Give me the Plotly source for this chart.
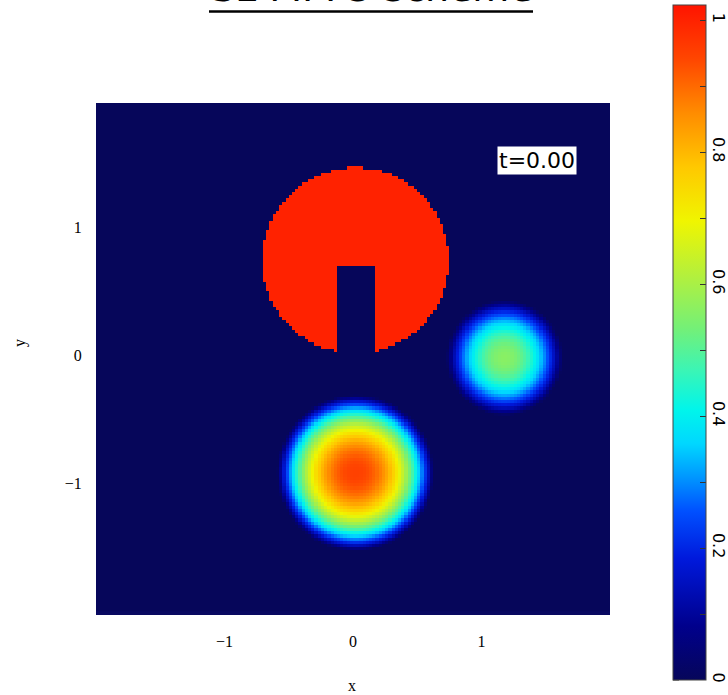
import numpy as np
import plotly.graph_objects as go

# Initial field of the solid-body-rotation test: a slotted disk and two smooth humps
shape_names = ["slotted disk", "large hump", "small hump"]
center_x = [0.02, 0.02, 1.18]
center_y = [0.74, -0.92, -0.02]
radius = [0.725, 0.61, 0.45]
peak = [1.00, 0.95, 0.56]
flatness = [0, 2.2, 2.0]
slot_half_width = 0.156
slot_top = 0.70

n_cells = 160
domain = [-2.0, 2.0]

x_ticks = [-1, 0, 1]
y_ticks = [-1, 0, 1]
cbar_tickvals = [0.0, 0.1, 0.2, 0.3, 0.4, 0.5, 0.6, 0.7, 0.8, 0.9, 1.0]
cbar_ticktext = ["0", "", "0.2", "", "0.4", "", "0.6", "", "0.8", "", "1"]
time_label = "t=0.00"
title_text = "SL-MPP5 scheme"

# cell-centred grid
dx = (domain[1] - domain[0]) / n_cells
xc = domain[0] + dx * (np.arange(n_cells) + 0.5)
yc = domain[0] + dx * (np.arange(n_cells) + 0.5)
X, Y = np.meshgrid(xc, yc)

field = np.zeros_like(X)
# slotted disk
r0 = np.hypot(X - center_x[0], Y - center_y[0])
disk = r0 <= radius[0]
slot = (np.abs(X - center_x[0]) < slot_half_width) & (Y < slot_top)
field[disk & ~slot] = peak[0]
# smooth humps
for k in (1, 2):
    r = np.hypot(X - center_x[k], Y - center_y[k])
    hump = peak[k] * np.clip(1.0 - (r / radius[k]) ** flatness[k], 0.0, None)
    field = np.maximum(field, hump)

colorscale = [
    [0.00, "rgb(6,6,90)"],
    [0.08, "rgb(0,0,140)"],
    [0.18, "rgb(0,25,220)"],
    [0.25, "rgb(0,80,255)"],
    [0.30, "rgb(0,150,255)"],
    [0.35, "rgb(0,215,255)"],
    [0.40, "rgb(0,245,235)"],
    [0.46, "rgb(60,245,180)"],
    [0.52, "rgb(115,240,120)"],
    [0.60, "rgb(180,240,60)"],
    [0.68, "rgb(240,245,0)"],
    [0.76, "rgb(255,200,0)"],
    [0.84, "rgb(255,140,0)"],
    [0.92, "rgb(255,70,0)"],
    [1.00, "rgb(255,20,0)"],
]

W, H = 728, 695
ml, mr, mt, mb = 96, 118, 103, 80
pw, ph = W - ml - mr, H - mt - mb

z_min, z_max = 0.0, 1.023
cbar_left, cbar_thick = 673, 33
cbar_top, cbar_len = 5, 675


def px_x(p):
    return (p - ml) / pw


def px_y(p):
    return (H - mb - p) / ph


fig = go.Figure(
    go.Heatmap(
        x=xc,
        y=yc,
        z=field,
        zmin=z_min,
        zmax=z_max,
        zsmooth=False,
        colorscale=colorscale,
        colorbar=dict(
            x=px_x(cbar_left),
            xanchor="left",
            xpad=0,
            y=px_y(cbar_top + cbar_len / 2),
            yanchor="middle",
            ypad=0,
            len=cbar_len,
            lenmode="pixels",
            thickness=cbar_thick,
            outlinewidth=1,
            outlinecolor="#444",
            tickmode="array",
            tickvals=cbar_tickvals,
            ticktext=cbar_ticktext,
            ticks="inside",
            ticklen=6,
            tickcolor="#333",
            tickangle=90,
            tickfont=dict(family="DejaVu Sans", size=16, color="black"),
        ),
        hoverinfo="skip",
    )
)

# matching tick marks on the left edge of the colour bar
for v in cbar_tickvals:
    py = cbar_top + cbar_len * (z_max - v) / (z_max - z_min)
    fig.add_shape(
        type="line", xref="paper", yref="paper",
        x0=px_x(cbar_left), x1=px_x(cbar_left + 6), y0=px_y(py), y1=px_y(py),
        line=dict(color="#333", width=1),
    )

serif = dict(family="Liberation Serif", size=16, color="black")
fig.update_layout(
    width=W,
    height=H,
    margin=dict(l=ml, r=mr, t=mt, b=mb, autoexpand=False),
    paper_bgcolor="white",
    plot_bgcolor="rgb(8,8,96)",
    showlegend=False,
    xaxis=dict(
        range=[-2.0, 2.0],
        tickvals=x_ticks,
        ticktext=["\u22121", "0", "1"],
        ticks="outside",
        ticklen=12,
        tickcolor="rgba(0,0,0,0)",
        tickfont=serif,
        showgrid=False,
        zeroline=False,
        showline=False,
    ),
    yaxis=dict(
        range=[-2.03, 1.97],
        tickvals=y_ticks,
        ticktext=["\u22121", "0", "1"],
        ticks="outside",
        ticklen=10,
        tickcolor="rgba(0,0,0,0)",
        tickfont=serif,
        showgrid=False,
        zeroline=False,
        showline=False,
    ),
)

fig.add_annotation(
    text="x", xref="paper", yref="paper", x=px_x(352), y=px_y(685),
    showarrow=False, font=serif, xanchor="center", yanchor="middle",
)
fig.add_annotation(
    text="y", xref="paper", yref="paper", x=px_x(20), y=px_y(343),
    showarrow=False, font=serif, textangle=-90, xanchor="center", yanchor="middle",
)
fig.add_annotation(
    text=time_label, xref="paper", yref="paper", x=px_x(536.5), y=px_y(160),
    showarrow=False, bgcolor="white", borderpad=1,
    font=dict(family="DejaVu Sans", size=22, color="black"),
    xanchor="center", yanchor="middle",
)
# title, partly above the page edge, with its underline
fig.add_annotation(
    text=title_text, xref="paper", yref="paper", x=px_x(371.5), y=px_y(-12),
    showarrow=False, font=dict(family="DejaVu Sans", size=38, color="black"),
    xanchor="center", yanchor="middle",
)
fig.add_shape(
    type="line", xref="paper", yref="paper",
    x0=px_x(209), x1=px_x(533), y0=px_y(11.5), y1=px_y(11.5),
    line=dict(color="black", width=2.5),
)

fig.write_html("out.html")
